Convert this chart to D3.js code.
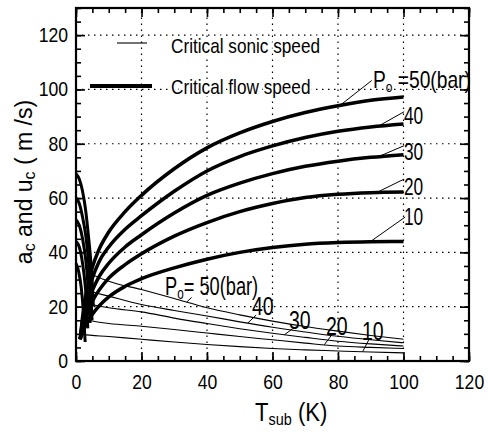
<!DOCTYPE html>
<html><head><meta charset="utf-8">
<script src="https://cdn.jsdelivr.net/npm/d3@7/dist/d3.min.js"></script>
<style>
body{margin:0;background:#fff;}
svg{display:block;font-family:"Liberation Sans",Arial,Helvetica,sans-serif;}
</style></head><body>
<svg id="c" width="488" height="432"></svg>
<script>
// ---------- data ----------
const pressures = [50, 40, 30, 20, 10];
const xTickLabels = [0, 20, 40, 60, 80, 100, 120];
const yTickLabels = [0, 20, 40, 60, 80, 100, 120];
const xMinorTicks = d3.range(0, 121, 5);
const yMinorTicks = d3.range(0, 131, 5);

// critical flow speed, rising branch [Tsub, u]
const flowRise50 = [[1.3,8],[2,16],[3,24],[4,30],[5,34.5],[7,41],[10,47.5],[15,55],[20,61],[30,70.8],[40,78.5],[50,84],[60,88.2],[70,91.5],[80,94],[90,96],[100,97.2]];
const flowRise40 = [[1.3,8],[2,15],[3,21.5],[4,26.5],[5,30.5],[7,36.5],[10,42],[15,48.5],[20,53.5],[30,62.5],[40,70],[50,75.3],[60,79.2],[70,82.3],[80,84.6],[90,86.2],[100,87.3]];
const flowRise30 = [[1.3,8],[2,14],[3,19],[4,23],[5,26],[7,31],[10,36],[15,42],[20,46.5],[30,54.5],[40,61],[50,65.5],[60,69],[70,71.7],[80,73.6],[90,75],[100,76]];
const flowRise20 = [[1.3,8],[2,12.5],[3,16.5],[4,19.5],[5,22],[7,26],[10,30.5],[15,35.5],[20,39.5],[30,46],[40,51],[50,55],[60,58],[70,60.2],[80,61.4],[90,62],[100,62.2]];
const flowRise10 = [[1.2,8],[2,10.8],[3,13.3],[4,15.4],[5,17.2],[7,20.2],[10,23.6],[15,27.5],[20,30.3],[30,34.3],[40,37.5],[50,40],[60,41.8],[70,43],[80,43.6],[90,43.9],[100,44]];
// critical flow speed, near-saturation descending branch
const flowFall50 = [[0,69],[1,67],[2,62.5],[3,55],[3.8,46],[4.5,37],[5,28],[5.3,20]];
const flowFall40 = [[0,60],[1,58],[2,53],[3,46],[3.8,37],[4.3,28],[4.7,20],[4.9,15]];
const flowFall30 = [[0,52],[1,50],[2,45],[3,37],[3.6,29],[4,21],[4.3,14]];
const flowFall20 = [[0,44],[1,42],[2,36],[2.8,28],[3.3,20],[3.6,12]];
const flowFall10 = [[0,36],[0.8,33],[1.6,27],[2.2,19],[2.6,11],[2.8,7]];
// critical sonic speed [Tsub, a]
const sonic50 = [[3,34],[5,32],[10,29.4],[20,26.3],[30,23],[40,19.6],[50,17],[60,14.7],[70,12.7],[80,11],[90,9.4],[100,8]];
const sonic40 = [[2.5,27],[5,25.5],[10,23.9],[20,20.8],[30,18.6],[40,16.6],[50,14.4],[60,12.4],[70,10.7],[80,9.1],[90,7.8],[100,6.7]];
const sonic30 = [[2,22],[5,20.8],[10,19.6],[20,18.1],[30,15.8],[40,13.8],[50,11.9],[60,10.2],[70,8.7],[80,7.3],[90,6.3],[100,5.5]];
const sonic20 = [[1.5,16],[5,14.7],[10,13.8],[20,12.8],[30,11.6],[40,10.3],[50,9],[60,7.8],[70,6.6],[80,5.5],[90,5],[100,4.6]];
const sonic10 = [[1,10],[2,9.8],[10,9],[20,8],[30,7],[40,6.1],[50,5.3],[60,4.6],[70,4.1],[80,3.7],[90,3.3],[100,3]];

const flowRise = [flowRise50, flowRise40, flowRise30, flowRise20, flowRise10];
const flowFall = [flowFall50, flowFall40, flowFall30, flowFall20, flowFall10];
const sonic = [sonic50, sonic40, sonic30, sonic20, sonic10];

// annotation label texts and leader targets (data coords)
const flowLabelText = ["50(bar)", "40", "30", "20", "10"];
const flowLeaderFrom = [[90.3,103.3],[100.2,91.8],[100.2,79.3],[100.2,67],[100.5,53]];
const flowLeaderToX = [80.6, 92.3, 92.3, 91.8, 89.8];
const sonicLeaderFrom = [[35.3,23.4],[55,16.9],[66.2,11.9],[78.4,10.1],[89.6,8.3]];
const sonicLeaderToX = [33.8, 52.4, 63.6, 75.8, 87.5];

// ---------- drawing ----------
const svg = d3.select("#c");
const x = d3.scaleLinear().domain([0,120]).range([76,469]);
const y = d3.scaleLinear().domain([0,130]).range([361,8]);

// grid
const g = svg.append("g");
g.selectAll(".gx").data(xTickLabels.filter(v=>v>0 && v<120)).enter().append("line")
  .attr("x1",d=>x(d)).attr("x2",d=>x(d)).attr("y1",y(0)).attr("y2",y(130))
  .attr("stroke","#000").attr("stroke-width",1.2).attr("stroke-dasharray","1.5,4.5");
g.selectAll(".gy").data(yTickLabels.filter(v=>v>0)).enter().append("line")
  .attr("y1",d=>y(d)).attr("y2",d=>y(d)).attr("x1",x(0)).attr("x2",x(120))
  .attr("stroke","#000").attr("stroke-width",1.2).attr("stroke-dasharray","1.5,4.5");

// axes ticks (inward on all sides)
function ticks(axisGen, transform, values, size){
  const a = svg.append("g").attr("transform",transform)
    .call(axisGen.tickValues(values).tickSize(size).tickSizeOuter(0).tickFormat(""));
  a.select(".domain").remove();
  a.selectAll("line").attr("stroke","#000").attr("stroke-width",1.6);
  return a;
}
ticks(d3.axisBottom(x), `translate(0,${y(0)})`, xMinorTicks, -5);
ticks(d3.axisBottom(x), `translate(0,${y(0)})`, xTickLabels, -9);
ticks(d3.axisTop(x), `translate(0,${y(130)})`, xMinorTicks, -5);
ticks(d3.axisTop(x), `translate(0,${y(130)})`, xTickLabels, -9);
ticks(d3.axisLeft(y), `translate(${x(0)},0)`, yMinorTicks, -5);
ticks(d3.axisLeft(y), `translate(${x(0)},0)`, yTickLabels, -9);
ticks(d3.axisRight(y), `translate(${x(120)},0)`, yMinorTicks, -5);
ticks(d3.axisRight(y), `translate(${x(120)},0)`, yTickLabels, -9);

// tick labels
const xl = svg.append("g").attr("transform",`translate(0,${y(0)})`)
  .call(d3.axisBottom(x).tickValues(xTickLabels).tickSize(0).tickPadding(14));
xl.select(".domain").remove();
xl.selectAll("text").attr("font-size",20).attr("font-family","Liberation Sans, Arial, sans-serif")
  .attr("fill","#000").attr("transform","scale(0.88,1)");

const yl = svg.append("g").attr("transform",`translate(${x(0)},0)`)
  .call(d3.axisLeft(y).tickValues(yTickLabels).tickSize(0).tickPadding(9));
yl.select(".domain").remove();
yl.selectAll("text").attr("font-size",20).attr("font-family","Liberation Sans, Arial, sans-serif")
  .attr("fill","#000").attr("transform","scale(0.88,1)");

// frame
svg.append("rect").attr("x",x(0)).attr("y",y(130)).attr("width",x(120)-x(0)).attr("height",y(0)-y(130))
  .attr("fill","none").attr("stroke","#000").attr("stroke-width",2.2);

// curves
const line = d3.line().x(d=>x(d[0])).y(d=>y(d[1])).curve(d3.curveMonotoneX);
svg.append("g").selectAll("path").data(sonic).enter().append("path")
  .attr("d",line).attr("fill","none").attr("stroke","#000").attr("stroke-width",1.1);
svg.append("g").selectAll("path").data(flowFall).enter().append("path")
  .attr("d",line).attr("fill","none").attr("stroke","#000").attr("stroke-width",3);
svg.append("g").selectAll("path").data(flowRise).enter().append("path")
  .attr("d",line).attr("fill","none").attr("stroke","#000").attr("stroke-width",3.5)
  .attr("stroke-linecap","butt");

// leaders
function yAt(series, xv){
  for(let i=1;i<series.length;i++){
    const [x0,y0]=series[i-1],[x1,y1]=series[i];
    if(xv>=x0 && xv<=x1) return y0+(y1-y0)*(xv-x0)/(x1-x0);
  }
  return series[series.length-1][1];
}
const lead = svg.append("g").attr("stroke","#000").attr("stroke-width",1);
pressures.forEach((p,i)=>{
  lead.append("line").attr("x1",x(flowLeaderFrom[i][0])).attr("y1",y(flowLeaderFrom[i][1]))
    .attr("x2",x(flowLeaderToX[i])).attr("y2",y(yAt(flowRise[i],flowLeaderToX[i])));
  lead.append("line").attr("x1",x(sonicLeaderFrom[i][0])).attr("y1",y(sonicLeaderFrom[i][1]))
    .attr("x2",x(sonicLeaderToX[i])).attr("y2",y(yAt(sonic[i],sonicLeaderToX[i])));
});

// annotation labels
function label(px, py, fs, sx, parts){
  const t = svg.append("text").attr("transform",`translate(${px},${py}) scale(${sx},1)`)
    .attr("font-size",fs).attr("fill","#000");
  parts.forEach(pt=>{
    const s = t.append("tspan").text(pt.t);
    if(pt.fs) s.attr("font-size",pt.fs);
    if(pt.dy) s.attr("dy",pt.dy);
  });
  return t;
}
// top-right flow labels
label(373, 88, 24, 0.8, [{t:"P"},{t:"o",fs:15,dy:4},{t:" ="+flowLabelText[0],dy:-4}]);
label(404, 124, 24, 0.72, [{t:flowLabelText[1]}]);
label(404, 160, 24, 0.72, [{t:flowLabelText[2]}]);
label(404, 195, 24, 0.72, [{t:flowLabelText[3]}]);
label(404, 225, 24, 0.72, [{t:flowLabelText[4]}]);
// bottom sonic labels
label(165, 295, 25, 0.73, [{t:"P"},{t:"o",fs:16,dy:4},{t:"= "+flowLabelText[0],dy:-4}]);
label(252, 315, 25, 0.78, [{t:flowLabelText[1]}]);
label(289, 329, 25, 0.78, [{t:flowLabelText[2]}]);
label(326, 335, 25, 0.78, [{t:flowLabelText[3]}]);
label(362, 340, 25, 0.78, [{t:flowLabelText[4]}]);

// legend
const leg = svg.append("g");
leg.append("line").attr("x1",117).attr("x2",147).attr("y1",43).attr("y2",43).attr("stroke","#000").attr("stroke-width",1.1);
leg.append("line").attr("x1",90).attr("x2",152).attr("y1",86).attr("y2",86).attr("stroke","#000").attr("stroke-width",4);
[["Critical sonic speed",53],["Critical flow speed",94]].forEach(([t,yy])=>{
  leg.append("text").attr("transform",`translate(171,${yy}) scale(0.86,1)`)
    .attr("font-size",20).attr("fill","#000")
    .attr("stroke","#fff").attr("stroke-width",5).attr("paint-order","stroke").attr("stroke-linejoin","round")
    .text(t);
});

// axis titles
const xt = svg.append("text").attr("transform","translate(255,421) scale(0.85,1)").attr("font-size",26).attr("fill","#000");
xt.append("tspan").text("T");
xt.append("tspan").attr("font-size",17).attr("dy",4).text("sub");
xt.append("tspan").attr("dy",-4).text(" (K)");

const yt = svg.append("text").attr("transform","translate(32,182) rotate(-90)").attr("text-anchor","middle")
  .attr("font-size",23).attr("fill","#000");
yt.append("tspan").text("a");
yt.append("tspan").attr("font-size",16).attr("dy",3).text("c");
yt.append("tspan").attr("dy",-3).text(" and u");
yt.append("tspan").attr("font-size",16).attr("dy",3).text("c");
yt.append("tspan").attr("dy",-3).text(" ( m /s)");
</script>
</body></html>
